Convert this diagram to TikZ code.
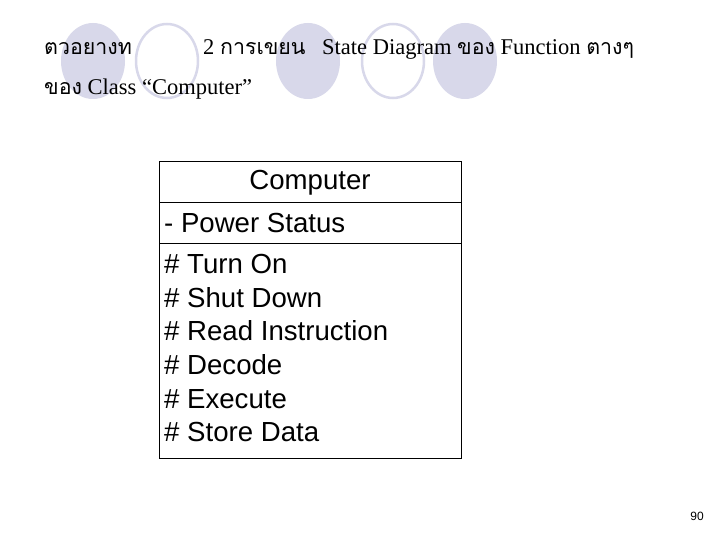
\documentclass[tikz,border=0pt]{standalone}
\usepackage{fontspec}
\setmainfont{Liberation Serif}
\newfontfamily\thaifont[Script=Thai,Scale=0.95]{Loma}
\newfontfamily\arialf{Liberation Sans}
\definecolor{circ}{RGB}{216,216,234}
\begin{document}
\begin{tikzpicture}[x=1pt,y=-1pt,
  fillc/.style={fill=circ,draw=none},
  ringc/.style={draw=circ,line width=2.5pt,fill=white},
  ttl/.style={anchor=base west,inner sep=0pt,font=\fontsize{22.5}{24}\selectfont},
  item/.style={anchor=west,inner sep=0pt,font=\arialf\fontsize{27.6}{29}\selectfont}]
\useasboundingbox (0,0) rectangle (720,540);
\fill[white] (0,0) rectangle (720,540);
\fill[fillc] (93,61) ellipse (32 and 38);
\draw[ringc] (167,61) ellipse (31 and 37);
\fill[fillc] (308,61) ellipse (32 and 38);
\draw[ringc] (393,61) ellipse (31 and 37);
\fill[fillc] (465,61) ellipse (32 and 38);
\node[ttl] (t1) at (44,55) {{\thaifont ตวอยางท}};
\node[ttl] (t2) at (203,55) {2 {\thaifont การเขยน}};
\node[ttl] (t3) at (322,55) {State Diagram {\thaifont ของ} Function {\thaifont ตางๆ}};
\node[ttl] (t4) at (44,95) {{\thaifont ของ} Class “Computer”};
\draw[line width=1pt] (159,162) rectangle (461,458);
\draw[line width=1pt] (159,203) -- (461,203);
\draw[line width=1pt] (159,243) -- (461,243);
\node[item,anchor=center] (c) at (310,183) {Computer};
\node[item] (a) at (164,223) {- Power Status};
\node[item] (m1) at (164,264) {\# Turn On};
\node[item] (m2) at (164,298) {\# Shut Down};
\node[item] (m3) at (164,331) {\# Read Instruction};
\node[item] (m4) at (164,365) {\# Decode};
\node[item] (m5) at (164,399) {\# Execute};
\node[item] (m6) at (164,432) {\# Store Data};
\node[anchor=east,inner sep=0pt,font=\arialf\fontsize{12}{14}\selectfont] (p) at (704,516) {90};
\end{tikzpicture}
\end{document}
